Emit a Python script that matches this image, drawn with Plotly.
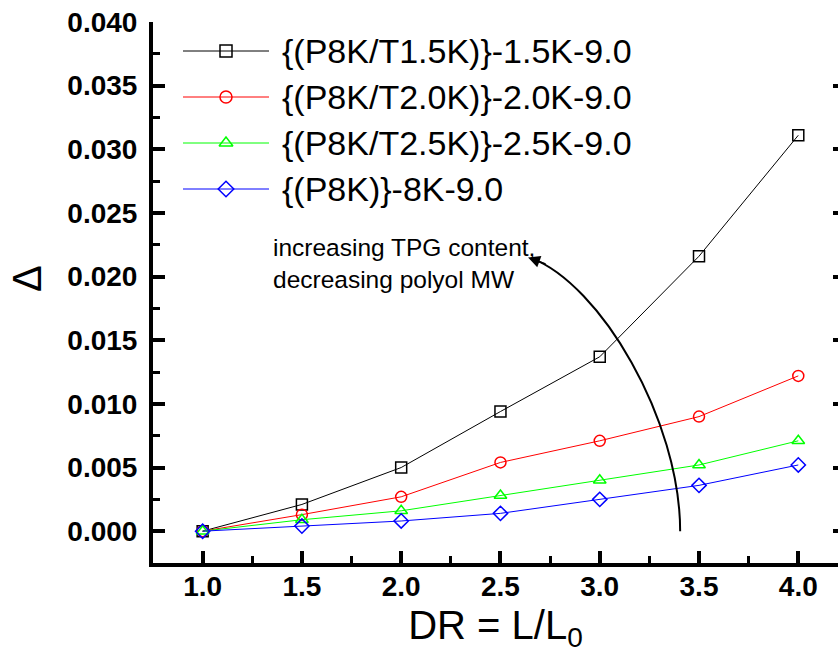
import plotly.graph_objects as go

# ---- data ----
dr = [1.0, 1.5, 2.0, 2.5, 3.0, 3.5, 4.0]
s_p8k_t15 = [0.0, 0.0021, 0.0050, 0.0094, 0.0137, 0.0216, 0.0311]
s_p8k_t20 = [0.0, 0.0013, 0.0027, 0.0054, 0.0071, 0.0090, 0.0122]
s_p8k_t25 = [0.0, 0.0009, 0.0016, 0.0028, 0.0040, 0.0052, 0.0071]
s_p8k = [0.0, 0.0004, 0.0008, 0.0014, 0.0025, 0.0036, 0.0052]
names = ["{(P8K/T1.5K)}-1.5K-9.0", "{(P8K/T2.0K)}-2.0K-9.0",
         "{(P8K/T2.5K)}-2.5K-9.0", "{(P8K)}-8K-9.0"]
series = [s_p8k_t15, s_p8k_t20, s_p8k_t25, s_p8k]
colors = ["#000000", "#FF0000", "#00FF00", "#0000FF"]
symbols = ["square-open", "circle-open", "triangle-up-open", "diamond-open"]
x_ticks = [1.0, 1.5, 2.0, 2.5, 3.0, 3.5, 4.0]
y_ticks = [0.000, 0.005, 0.010, 0.015, 0.020, 0.025, 0.030, 0.035, 0.040]

W, H = 838, 653
L, R, T, B = 153, 0, 22, 90
pw, ph = W - L - R, H - T - B
XR = [0.75, 4.2]
YR = [-0.0025, 0.040]

def px2paper(px, py):
    return (px - L) / pw, (H - B - py) / ph

def px2data(px, py):
    xp, yp = px2paper(px, py)
    return XR[0] + xp * (XR[1] - XR[0]), YR[0] + yp * (YR[1] - YR[0])

fig = go.Figure()
for ys, nm, c, sym in zip(series, names, colors, symbols):
    fig.add_trace(go.Scatter(
        x=dr, y=ys, name=nm, mode="lines+markers",
        line=dict(color=c, width=1),
        marker=dict(symbol=sym, size=11, color=c, line=dict(color=c, width=1.5)),
        showlegend=False))

# dummy trace for right-hand tick axis
fig.add_trace(go.Scatter(x=[None], y=[None], yaxis="y2", showlegend=False, hoverinfo="skip"))

# ---- manual legend (key lines, key markers, labels) ----
rows_py = [51, 97, 143, 189]
for nm, c, sym, py in zip(names, colors, symbols, rows_py):
    x0, yv = px2paper(183, py)
    x1, _ = px2paper(269, py)
    fig.add_shape(type="line", xref="paper", yref="paper", x0=x0, x1=x1, y0=yv, y1=yv,
                  line=dict(color=c, width=1))
    kx, ky = px2data(226, py)
    fig.add_trace(go.Scatter(
        x=[kx], y=[ky], mode="markers",
        marker=dict(symbol=sym, size=12, color=c, line=dict(color=c, width=1.5)),
        showlegend=False, hoverinfo="skip"))
    xt, _ = px2paper(280, py)
    fig.add_annotation(x=xt, y=yv, xref="paper", yref="paper", text=nm, showarrow=False,
                       xanchor="left", yanchor="middle",
                       font=dict(family="Liberation Sans, Arial", size=34, color="black"))

# ---- curved arrow annotation ----
fig.add_shape(type="path", xref="x", yref="y",
              path="M 3.405,0 C 3.405,0.0088 3.002,0.0194 2.655,0.02145",
              line=dict(color="black", width=2))
fig.add_annotation(x=2.639, y=0.0215, xref="x", yref="y", ax=19, ay=7, axref="pixel", ayref="pixel",
                   text="", showarrow=True, arrowhead=2, arrowsize=1.6, arrowwidth=1.5,
                   arrowcolor="black")
tx, ty = px2paper(271, 263)
fig.add_annotation(x=tx, y=ty, xref="paper", yref="paper",
                   text="increasing TPG content,<br>decreasing polyol MW",
                   showarrow=False, xanchor="left", yanchor="middle", align="left",
                   font=dict(family="Liberation Sans, Arial", size=24.5, color="black"))

# ---- y-axis title ----
yx, yy = px2paper(27, 279)
fig.add_annotation(x=yx, y=yy, xref="paper", yref="paper", text="Δ", textangle=-90,
                   showarrow=False, xanchor="center", yanchor="middle",
                   font=dict(family="Liberation Sans, Arial", size=40, color="black"))

tickfont = dict(family="Liberation Sans, Arial", size=28, color="black", weight="bold")
fig.update_layout(
    width=W, height=H, margin=dict(l=L, r=R, t=T, b=B),
    paper_bgcolor="white", plot_bgcolor="white",
    xaxis=dict(range=XR, tickmode="array", tickvals=x_ticks,
               ticktext=[f"{v:.1f}" for v in x_ticks],
               ticks="inside", ticklen=12, tickwidth=3.5, tickcolor="black",
               minor=dict(dtick=0.25, tick0=0.75, ticks="inside", ticklen=7, tickwidth=3, tickcolor="black"),
               showline=True, linecolor="black", linewidth=4, showgrid=False, zeroline=False,
               tickfont=tickfont, ticklabelstandoff=-5, automargin=False,
               ticklabeloverflow="allow",
               title=dict(text="DR = L/L<sub>0</sub>", standoff=13,
                          font=dict(family="Liberation Sans, Arial", size=40, color="black"))),
    yaxis=dict(range=YR, tickmode="array", tickvals=y_ticks,
               ticktext=[f"{v:.3f}" for v in y_ticks],
               ticks="inside", ticklen=12, tickwidth=3.5, tickcolor="black",
               minor=dict(dtick=0.0025, tick0=0, ticks="inside", ticklen=7, tickwidth=3, tickcolor="black"),
               showline=True, linecolor="black", linewidth=4, showgrid=False, zeroline=False,
               tickfont=tickfont, ticklabelstandoff=6, automargin=False,
               ticklabeloverflow="allow"),
    yaxis2=dict(range=YR, overlaying="y", side="right", tickmode="array",
                tickvals=y_ticks, ticks="inside", ticklen=5, tickwidth=3.5, tickcolor="black",
                showticklabels=False, showline=False, showgrid=False, zeroline=False,
                automargin=False),
    showlegend=False,
)

fig.write_html("out.html", config={"displayModeBar": False},
               post_script="document.body.style.margin='0';document.body.style.overflow='hidden';")
